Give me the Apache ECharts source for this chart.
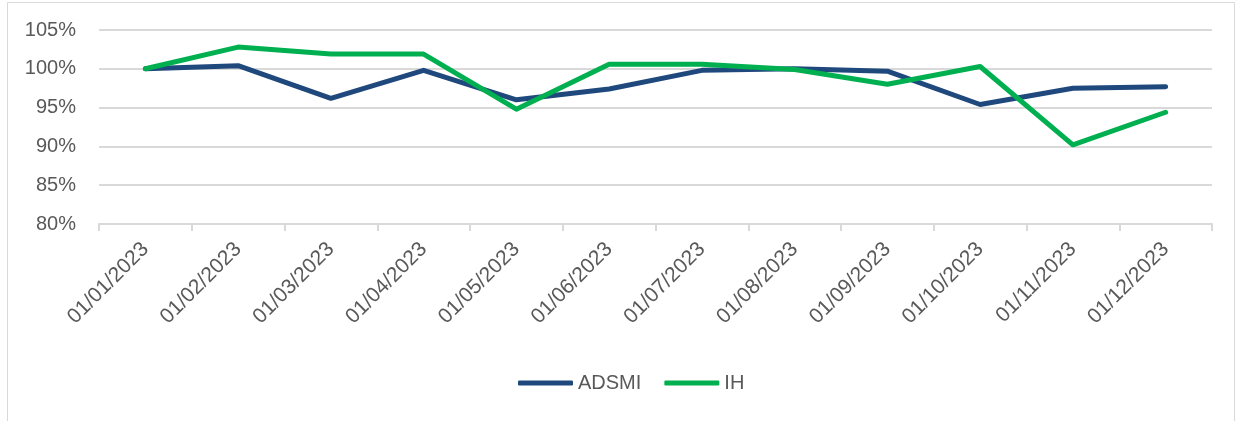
<!DOCTYPE html>
<html>
<head>
<meta charset="utf-8">
<script src="https://cdn.jsdelivr.net/npm/echarts@6/dist/echarts.min.js"></script>
<style>
html,body{margin:0;padding:0;background:#fff;}
#chart{width:1240px;height:421px;}
</style>
</head>
<body>
<div id="chart"></div>
<script>
const categories = ['01/01/2023','01/02/2023','01/03/2023','01/04/2023','01/05/2023','01/06/2023','01/07/2023','01/08/2023','01/09/2023','01/10/2023','01/11/2023','01/12/2023'];
const adsmi = [100.0, 100.4, 96.2, 99.8, 96.0, 97.4, 99.8, 100.0, 99.7, 95.4, 97.5, 97.7];
const ih = [100.0, 102.8, 101.9, 101.9, 94.8, 100.6, 100.6, 99.9, 98.0, 100.3, 90.2, 94.4];
const yMin = 80, yMax = 105, yStep = 5;

const FONT = '"Liberation Sans", Arial, sans-serif';
const chart = echarts.init(document.getElementById('chart'), null, {renderer:'canvas'});
chart.setOption({
  backgroundColor: '#ffffff',
  animation: false,
  graphic: [{
    type: 'rect', left: 5, top: 0,
    shape: {x: 0, y: 0, width: 1227, height: 419},
    style: {fill: 'none', stroke: '#d9d9d9', lineWidth: 1},
    silent: true
  }],
  grid: {left: 99, right: 28, top: 30, bottom: 197, containLabel: false},
  legend: {
    left: 513, top: 368,
    itemWidth: 55, itemHeight: 5, itemGap: 23,
    icon: 'roundRect',
    textStyle: {fontFamily: FONT, fontSize: 20, color: '#595959'},
    data: ['ADSMI', 'IH']
  },
  xAxis: {
    type: 'category',
    data: categories,
    boundaryGap: true,
    axisLine: {show: true, lineStyle: {color: '#d9d9d9', width: 2}},
    axisTick: {show: true, length: 7, lineStyle: {color: '#d9d9d9', width: 2}},
    axisLabel: {rotate: 45, interval: 0, margin: 22, fontFamily: FONT, fontSize: 21, color: '#595959'}
  },
  yAxis: {
    type: 'value',
    min: yMin, max: yMax, interval: yStep,
    axisLine: {show: false},
    axisTick: {show: false},
    splitLine: {show: true, lineStyle: {color: '#d9d9d9', width: 2}},
    axisLabel: {formatter: '{value}%', margin: 23, fontFamily: FONT, fontSize: 20, color: '#595959'}
  },
  series: [
    {name: 'ADSMI', type: 'line', data: adsmi, showSymbol: false, symbol: 'none',
     lineStyle: {color: '#1F497D', width: 5, cap: 'round', join: 'round'}, itemStyle: {color: '#1F497D'}},
    {name: 'IH', type: 'line', data: ih, showSymbol: false, symbol: 'none',
     lineStyle: {color: '#00B050', width: 5, cap: 'round', join: 'round'}, itemStyle: {color: '#00B050'}}
  ]
});
</script>
</body>
</html>
